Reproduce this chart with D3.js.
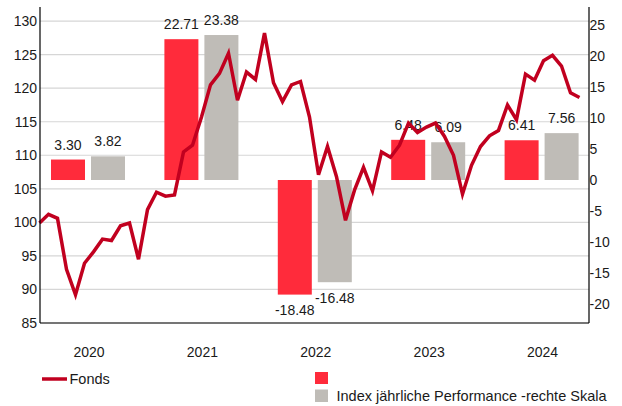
<!DOCTYPE html>
<html>
<head>
<meta charset="utf-8">
<script src="https://cdn.jsdelivr.net/npm/d3@7"></script>
<style>
  body { margin: 0; background: #fff; }
  svg { display: block; font-family: "Liberation Sans", Arial, sans-serif; }
  text { fill: #1a1a1a; }
</style>
</head>
<body>
<svg id="chart" width="622" height="406"></svg>
<script>
// yearly performance (right scale)
var years = ['2020', '2021', '2022', '2023', '2024'];
var fondsPerf = [3.30, 22.71, -18.48, 6.48, 6.41];
var indexPerf = [3.82, 23.38, -16.48, 6.09, 7.56];

// Fonds price line (left scale), monthly points
var fondsLine = [
  99.9, 101.2, 100.6, 93.0, 89.2, 93.9, 95.6, 97.5, 97.3, 99.5,
  99.9, 94.5, 101.9, 104.5, 103.9, 104.1, 110.5, 111.5, 115.7, 120.5,
  122.2, 125.2, 118.2, 122.4, 121.3, 128.2, 120.8, 118.0, 120.5, 121.0,
  115.7, 107.1, 111.3, 106.8, 100.3, 104.8, 108.2, 104.7, 110.5, 109.7,
  111.5, 114.8, 113.4, 114.2, 114.8, 112.8, 110.0, 104.2, 108.5, 111.3,
  112.9, 113.7, 117.5, 115.3, 122.1, 121.2, 124.1, 124.9, 123.3, 119.3,
  118.6
];

var leftTicks = [85, 90, 95, 100, 105, 110, 115, 120, 125, 130];
var rightTicks = [-20, -15, -10, -5, 0, 5, 10, 15, 20, 25];

var series = ['fonds', 'index'];
var colors = { fonds: '#ff2b3b', index: '#bfbcb7' };
var lineColor = '#c1001f';

var svg = d3.select('#chart');
var plotLeft = 40, plotRight = 589, plotTop = 7, plotBottom = 323;

let yLeft = d3.scaleLinear().domain([85, 132.1]).range([plotBottom, plotTop]);
let yRight = d3.scaleLinear().domain([-23.06, 27.9]).range([plotBottom, plotTop]);

let x0 = d3.scaleBand().domain(years).range([31.3, 598.3]);
let x1 = d3.scaleBand().domain(series).range([19.7, 93.7]).paddingInner(0.15);
let xLine = d3.scaleLinear().domain([0, fondsLine.length - 1]).range([39.5, 579.5]);

// gridlines on left ticks
svg.append('g').attr('class', 'grid')
  .selectAll('line')
  .data(leftTicks)
  .enter().append('line')
  .attr('x1', plotLeft).attr('x2', plotRight)
  .attr('y1', d => yLeft(d)).attr('y2', d => yLeft(d))
  .attr('stroke', '#d6d6d6').attr('stroke-width', 1.2);

// bars
var barData = years.map((y, i) => ({ year: y, values: [
  { key: 'fonds', v: fondsPerf[i] }, { key: 'index', v: indexPerf[i] }
]}));

let groups = svg.append('g').attr('class', 'bars')
  .selectAll('g')
  .data(barData)
  .enter().append('g')
  .attr('transform', d => 'translate(' + x0(d.year) + ',0)');

groups.selectAll('rect')
  .data(d => d.values)
  .enter().append('rect')
  .attr('x', d => x1(d.key))
  .attr('width', x1.bandwidth())
  .attr('y', d => yRight(Math.max(0, d.v)))
  .attr('height', d => Math.abs(yRight(d.v) - yRight(0)))
  .attr('fill', d => colors[d.key]);

groups.selectAll('text')
  .data(d => d.values)
  .enter().append('text')
  .attr('x', d => x1(d.key) + x1.bandwidth() / 2)
  .attr('y', d => d.v >= 0 ? yRight(d.v) - 10 : yRight(d.v) + 20.5)
  .attr('text-anchor', 'middle')
  .attr('font-size', 14)
  .text(d => d.v.toFixed(2));

// Fonds line
let line = d3.line()
  .x((d, i) => xLine(i))
  .y(d => yLeft(d));

svg.append('path')
  .datum(fondsLine)
  .attr('d', line)
  .attr('fill', 'none')
  .attr('stroke', lineColor)
  .attr('stroke-width', 3.5)
  .attr('stroke-linejoin', 'miter');

// axis lines
var axes = svg.append('g').attr('stroke', '#000').attr('stroke-width', 1.2);
axes.append('line').attr('x1', plotLeft).attr('x2', plotLeft).attr('y1', plotTop).attr('y2', plotBottom);
axes.append('line').attr('x1', plotRight).attr('x2', plotRight).attr('y1', plotTop).attr('y2', plotBottom);
axes.append('line').attr('x1', plotLeft).attr('x2', plotRight).attr('y1', plotBottom).attr('y2', plotBottom);

// left tick labels
svg.append('g')
  .selectAll('text')
  .data(leftTicks)
  .enter().append('text')
  .attr('x', 37)
  .attr('y', d => yLeft(d))
  .attr('dy', '0.35em')
  .attr('text-anchor', 'end')
  .attr('font-size', 14)
  .text(d => d);

// right tick labels
svg.append('g')
  .selectAll('text')
  .data(rightTicks)
  .enter().append('text')
  .attr('x', 589.5)
  .attr('y', d => yRight(d))
  .attr('dy', '0.35em')
  .attr('text-anchor', 'start')
  .attr('font-size', 14)
  .text(d => d);

// year labels
svg.append('g')
  .selectAll('text')
  .data(years)
  .enter().append('text')
  .attr('x', d => x0(d) + x0.bandwidth() / 2 + 1)
  .attr('y', 356.5)
  .attr('text-anchor', 'middle')
  .attr('font-size', 14)
  .text(d => d);

// legend
var legend = svg.append('g');
legend.append('line')
  .attr('x1', 42).attr('x2', 67).attr('y1', 379).attr('y2', 379)
  .attr('stroke', lineColor).attr('stroke-width', 3.5);
legend.append('text').attr('x', 69.5).attr('y', 384).attr('font-size', 14.5).text('Fonds');

legend.append('rect').attr('x', 315).attr('y', 372).attr('width', 13).attr('height', 12).attr('fill', colors.fonds);
legend.append('rect').attr('x', 315).attr('y', 389.5).attr('width', 13).attr('height', 12.5).attr('fill', colors.index);
legend.append('text').attr('x', 336.5).attr('y', 400.7).attr('font-size', 14.5)
  .text('Index jährliche Performance -rechte Skala');
</script>
</body>
</html>
